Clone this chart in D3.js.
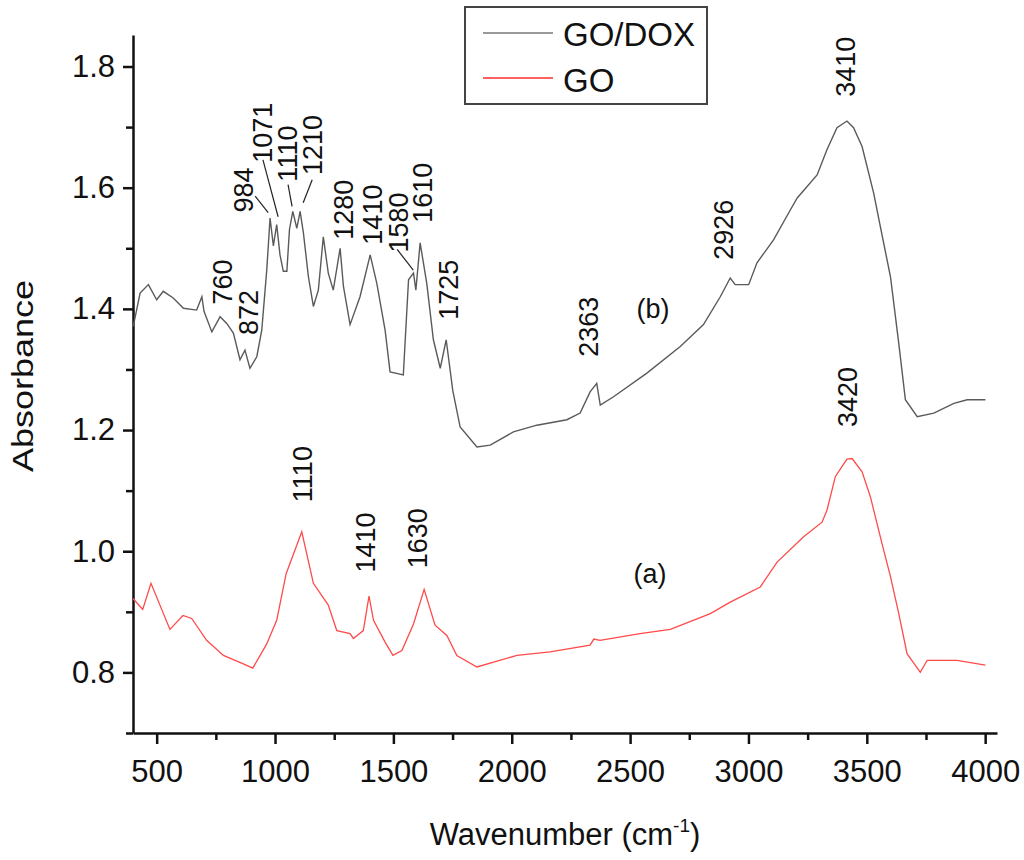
<!DOCTYPE html>
<html>
<head>
<meta charset="utf-8">
<script src="https://cdn.jsdelivr.net/npm/d3@7"></script>
<style>
  body { margin: 0; background: #fff; }
  svg text { font-family: "Liberation Sans", Arial, sans-serif; fill: #111; }
</style>
</head>
<body>
<div id="chart-container"></div>
<script>
// GLOBALS AND CONSTANTS

const width = 1024;
const height = 860;
const margin = { top: 35, right: 27, bottom: 127, left: 133 };

// DATA
const goDoxWavenumber = [401, 430, 465, 500, 528, 570, 613, 669, 691, 700,
  733, 768, 796, 824, 852, 873, 894, 923, 944, 965,
  979, 993, 1007, 1021, 1035, 1050, 1061, 1075, 1092, 1106,
  1120, 1141, 1162, 1183, 1204, 1225, 1246, 1275, 1289, 1317,
  1359, 1402, 1430, 1465, 1486, 1542, 1564, 1585, 1595, 1613,
  1641, 1669, 1698, 1723, 1751, 1782, 1853, 1909, 2007, 2106,
  2233, 2289, 2331, 2359, 2374, 2430, 2571, 2712, 2810, 2881,
  2923, 2944, 3001, 3036, 3106, 3178, 3206, 3290, 3332, 3374,
  3416, 3444, 3480, 3529, 3557, 3600, 3635, 3663, 3713, 3783,
  3868, 3924, 4001];
const goDoxAbsorbance = [1.371, 1.426, 1.440, 1.415, 1.429, 1.418, 1.401, 1.398, 1.420, 1.396,
  1.362, 1.387, 1.376, 1.360, 1.316, 1.332, 1.302, 1.321, 1.365, 1.464,
  1.550, 1.504, 1.539, 1.489, 1.462, 1.462, 1.531, 1.561, 1.533, 1.561,
  1.525, 1.453, 1.404, 1.431, 1.519, 1.459, 1.431, 1.500, 1.437, 1.374,
  1.420, 1.489, 1.442, 1.365, 1.296, 1.291, 1.448, 1.459, 1.431, 1.509,
  1.442, 1.349, 1.302, 1.349, 1.265, 1.205, 1.172, 1.175, 1.197, 1.208,
  1.217, 1.228, 1.263, 1.277, 1.241, 1.255, 1.294, 1.338, 1.374, 1.420,
  1.451, 1.440, 1.440, 1.476, 1.514, 1.564, 1.583, 1.621, 1.663, 1.699,
  1.710, 1.699, 1.668, 1.591, 1.536, 1.453, 1.343, 1.250, 1.222, 1.228,
  1.244, 1.250, 1.250];

const goWavenumber = [400, 441, 476, 556, 611, 648, 711, 782, 866, 906,
  965, 1007, 1047, 1113, 1162, 1225, 1261, 1317, 1331, 1373,
  1397, 1416, 1465, 1498, 1536, 1585, 1630, 1676, 1726, 1768,
  1853, 2022, 2162, 2331, 2347, 2373, 2542, 2670, 2839, 2923,
  3050, 3121, 3233, 3311, 3332, 3367, 3416, 3438, 3480, 3515,
  3564, 3600, 3635, 3670, 3726, 3755, 3881, 4001];
const goAbsorbance = [0.922, 0.904, 0.947, 0.871, 0.894, 0.889, 0.853, 0.828, 0.814, 0.807,
  0.847, 0.886, 0.963, 1.032, 0.947, 0.911, 0.869, 0.864, 0.856, 0.869,
  0.926, 0.886, 0.850, 0.828, 0.836, 0.880, 0.937, 0.878, 0.861, 0.828,
  0.809, 0.828, 0.834, 0.845, 0.855, 0.853, 0.864, 0.871, 0.897, 0.916,
  0.941, 0.982, 1.024, 1.048, 1.068, 1.123, 1.152, 1.153, 1.131, 1.090,
  1.013, 0.958, 0.897, 0.831, 0.800, 0.820, 0.820, 0.812];

const xMajorTicks = [500, 1000, 1500, 2000, 2500, 3000, 3500, 4000];
const xMinorTicks = [750, 1250, 1750, 2250, 2750, 3250, 3750];
const yMajorTicks = [0.8, 1.0, 1.2, 1.4, 1.6, 1.8];
const yMinorTicks = [0.7, 0.9, 1.1, 1.3, 1.5, 1.7];

const seriesNames = ['GO/DOX', 'GO'];
const seriesColors = ['#5a5a5a', '#ff4a4a'];

// peak labels: text, anchor wavenumber, anchor absorbance (text foot)
const peakLabels = [
  ['760', 818, 1.407], ['872', 928, 1.357], ['984', 907, 1.559],
  ['1071', 988, 1.641], ['1110', 1093, 1.610], ['1210', 1199, 1.621],
  ['1280', 1330, 1.514], ['1410', 1452, 1.506], ['1580', 1562, 1.493],
  ['1610', 1664, 1.542], ['1725', 1774, 1.382], ['2363', 2365, 1.321],
  ['2926', 2936, 1.481], ['3410', 3451, 1.750], ['3420', 3460, 1.205],
  ['1110', 1157, 1.081], ['1410', 1423, 0.965], ['1630', 1643, 0.972]
];
// leader lines: x1, y1, x2, y2 in data units
const leaderLines = [
  [916, 1.586, 971, 1.559], [949, 1.646, 1013, 1.552],
  [1055, 1.605, 1072, 1.569], [1157, 1.613, 1119, 1.575],
  [1516, 1.498, 1584, 1.464]
];

// SCALES

const xScale = d3.scaleLinear()
  .domain([400, 4050])
  .range([margin.left, width - margin.right]);

const yScale = d3.scaleLinear()
  .domain([0.7, 1.852])
  .range([height - margin.bottom, margin.top]);

// CREATE SVG
const svg = d3.select('#chart-container')
  .append('svg')
  .attr('width', width)
  .attr('height', height);

// AXES
const xAxis = svg.append('g')
  .attr('transform', `translate(0,${height - margin.bottom})`)
  .call(d3.axisBottom(xScale)
    .tickValues(xMajorTicks)
    .tickSize(11)
    .tickSizeOuter(0)
    .tickPadding(16)
    .tickFormat(d3.format('d')));

svg.append('g')
  .attr('transform', `translate(0,${height - margin.bottom})`)
  .call(d3.axisBottom(xScale).tickValues(xMinorTicks).tickSize(7).tickSizeOuter(0).tickFormat(''))
  .select('.domain').remove();

const yAxis = svg.append('g')
  .attr('transform', `translate(${margin.left},0)`)
  .call(d3.axisLeft(yScale)
    .tickValues(yMajorTicks)
    .tickSize(10)
    .tickSizeOuter(0)
    .tickPadding(8)
    .tickFormat(d3.format('.1f')));

svg.append('g')
  .attr('transform', `translate(${margin.left},0)`)
  .call(d3.axisLeft(yScale).tickValues(yMinorTicks).tickSize(7).tickSizeOuter(0).tickFormat(''))
  .select('.domain').remove();

svg.selectAll('.domain').attr('stroke', '#111').attr('stroke-width', 2.5);
svg.selectAll('.tick line').attr('stroke', '#111').attr('stroke-width', 2.5);
svg.selectAll('.tick text')
  .style('font-size', '31px')
  .style('font-family', '"Liberation Sans", Arial, sans-serif')
  .attr('fill', '#111');

// AXIS TITLES
svg.append('text')
  .attr('transform', 'translate(33,376) rotate(-90)')
  .attr('text-anchor', 'middle')
  .attr('textLength', 192)
  .attr('lengthAdjust', 'spacingAndGlyphs')
  .style('font-size', '30px')
  .text('Absorbance');

const xTitle = svg.append('text')
  .attr('x', 565)
  .attr('y', 845)
  .attr('text-anchor', 'middle')
  .style('font-size', '31px');
xTitle.append('tspan').text('Wavenumber (cm');
xTitle.append('tspan').attr('dy', -13).style('font-size', '19px').text('-1');
xTitle.append('tspan').attr('dy', 13).text(')');

// LINES
const line = d3.line()
  .x(d => xScale(d[0]))
  .y(d => yScale(d[1]));

svg.append('path')
  .datum(d3.zip(goDoxWavenumber, goDoxAbsorbance))
  .attr('fill', 'none')
  .attr('stroke', seriesColors[0])
  .attr('stroke-width', 1.4)
  .attr('d', line);

svg.append('path')
  .datum(d3.zip(goWavenumber, goAbsorbance))
  .attr('fill', 'none')
  .attr('stroke', seriesColors[1])
  .attr('stroke-width', 1.3)
  .attr('d', line);

// PEAK LABELS
svg.append('g')
  .selectAll('text')
  .data(peakLabels)
  .enter()
  .append('text')
  .attr('transform', d => `translate(${xScale(d[1])},${yScale(d[2])}) rotate(-90)`)
  .style('font-size', '27px')
  .text(d => d[0]);

svg.append('g')
  .selectAll('line')
  .data(leaderLines)
  .enter()
  .append('line')
  .attr('x1', d => xScale(d[0]))
  .attr('y1', d => yScale(d[1]))
  .attr('x2', d => xScale(d[2]))
  .attr('y2', d => yScale(d[3]))
  .attr('stroke', '#222')
  .attr('stroke-width', 1.2);

svg.append('text')
  .attr('x', 653).attr('y', 318)
  .attr('text-anchor', 'middle')
  .style('font-size', '27px')
  .text('(b)');

svg.append('text')
  .attr('x', 650).attr('y', 583)
  .attr('text-anchor', 'middle')
  .style('font-size', '27px')
  .text('(a)');

// LEGEND
const legend = svg.append('g');

legend.append('rect')
  .attr('x', 465).attr('y', 7)
  .attr('width', 242).attr('height', 97)
  .attr('fill', '#fff')
  .attr('stroke', '#444')
  .attr('stroke-width', 2);

legend.selectAll('line')
  .data(seriesNames)
  .enter()
  .append('line')
  .attr('x1', 483).attr('x2', 553)
  .attr('y1', (d, i) => 33 + i * 45)
  .attr('y2', (d, i) => 33 + i * 45)
  .attr('stroke', (d, i) => i === 0 ? '#999' : '#ff6060')
  .attr('stroke-width', 2);

legend.selectAll('text')
  .data(seriesNames)
  .enter()
  .append('text')
  .attr('x', 563)
  .attr('y', (d, i) => 46 + i * 46)
  .style('font-size', '33px')
  .text(d => d);
</script>
</body>
</html>
